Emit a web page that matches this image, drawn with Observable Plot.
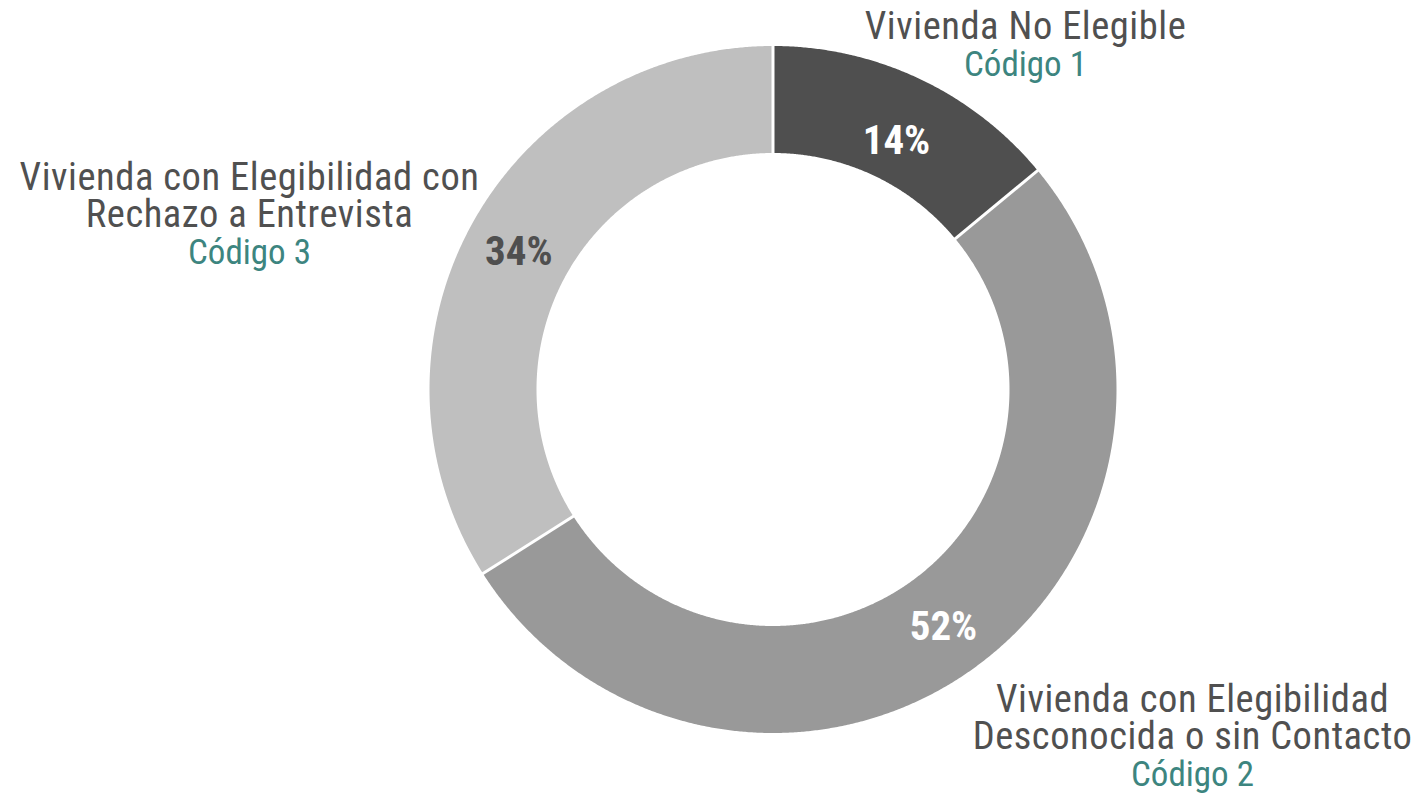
<!DOCTYPE html>
<html>
<head>
<meta charset="utf-8">
<script src="https://cdn.jsdelivr.net/npm/d3@7"></script>
<script src="https://cdn.jsdelivr.net/npm/@observablehq/plot@0.6"></script>
<style>
  html, body { margin: 0; padding: 0; background: #fff; }
  #chart svg { display: block; }
</style>
</head>
<body>
<div id="chart"></div>
<script>
// ---- data ----
const categories = ["Vivienda No Elegible", "Vivienda con Elegibilidad Desconocida o sin Contacto", "Vivienda con Elegibilidad con Rechazo a Entrevista"];
const shares = [14, 52, 34];
const codes = ["Código 1", "Código 2", "Código 3"];
const labelLines = [["Vivienda No Elegible"], ["Vivienda con Elegibilidad", "Desconocida o sin Contacto"], ["Vivienda con Elegibilidad con", "Rechazo a Entrevista"]];

// ---- style / layout ----
const sliceColors = ["#4f4f4f", "#999999", "#bfbfbf"];
const pctColors = ["#ffffff", "#ffffff", "#4f4f4f"];
const pctDy = [14, 3, 2];
const cx = 772.5, cy = 389, rOuter = 343.5, rInner = 236.5, rLabel = 290;
const FONT = "'Roboto Condensed', 'Liberation Sans Narrow', 'Arial Narrow', 'DejaVu Sans Condensed', sans-serif";
// category label anchor (center x, middle y of first line) per category
const labelPos = [[1025, 27], [1192, 700], [249, 178]];
const lineGap = 37;

// ---- geometry from data ----
const total = d3.sum(shares);
const pie = [];
let acc = 0;
shares.forEach((v, i) => { pie.push({i, a0: acc / total * 2 * Math.PI, a1: (acc + v) / total * 2 * Math.PI}); acc += v; });
const pt = (r, a) => [cx + r * Math.sin(a), cy - r * Math.cos(a)];

const poly = [];
pie.forEach(s => {
  const n = Math.max(8, Math.ceil((s.a1 - s.a0) / 0.005));
  const ring = [];
  for (let k = 0; k <= n; k++) ring.push(pt(rOuter, s.a0 + (s.a1 - s.a0) * k / n));
  for (let k = n; k >= 0; k--) ring.push(pt(rInner, s.a0 + (s.a1 - s.a0) * k / n));
  ring.push(ring[0]);
  ring.forEach(([x, y]) => poly.push({cat: categories[s.i], x, y}));
});
const seps = pie.map(s => { const [x1, y1] = pt(rInner - 1, s.a0); const [x2, y2] = pt(rOuter + 1, s.a0); return {x1, y1, x2, y2}; });
const pctLabels = pie.map(s => { const m = (s.a0 + s.a1) / 2; const [x, y] = pt(rLabel, m); return {x, y: y + pctDy[s.i], text: shares[s.i] + "%", color: pctColors[s.i]}; });

const catText = [], codeText = [];
labelLines.forEach((lines, i) => {
  catText.push({x: labelPos[i][0], y: labelPos[i][1] + (lines.length - 1) * lineGap / 2, text: lines.join("\n")});
  codeText.push({x: labelPos[i][0], y: labelPos[i][1] + lines.length * lineGap, text: codes[i]});
});

const chart = Plot.plot({
  width: 1425, height: 802,
  margin: 0,
  x: {domain: [0, 1425], axis: null},
  y: {domain: [0, 802], range: [0, 802], axis: null},
  color: {domain: categories, range: sliceColors},
  style: {fontFamily: FONT, background: "#fff"},
  marks: [
    Plot.line(poly, {x: "x", y: "y", z: "cat", fill: "cat", stroke: "none", curve: "linear"}),
    Plot.link(seps, {x1: "x1", y1: "y1", x2: "x2", y2: "y2", stroke: "#fff", strokeWidth: 3}),
    Plot.text(pctLabels, {x: "x", y: "y", text: "text", fill: "color", fontSize: 41, fontWeight: "bold", fontFamily: FONT}),
    Plot.text(catText, {x: "x", y: "y", text: "text", fill: "#505050", fontSize: 38.5, fontWeight: 400, lineHeight: lineGap / 38.5, lineAnchor: "middle", fontFamily: FONT, textAnchor: "middle"}),
    Plot.text(codeText, {x: "x", y: "y", text: "text", fill: "#3d857f", fontSize: 35, fontWeight: 400, fontFamily: FONT})
  ]
});
// tracking to match the reference's wider type
const textGroups = chart.querySelectorAll('g[aria-label="text"]');
if (textGroups[1]) textGroups[1].setAttribute("letter-spacing", "0.55");
document.getElementById("chart").appendChild(chart);
</script>
</body>
</html>
